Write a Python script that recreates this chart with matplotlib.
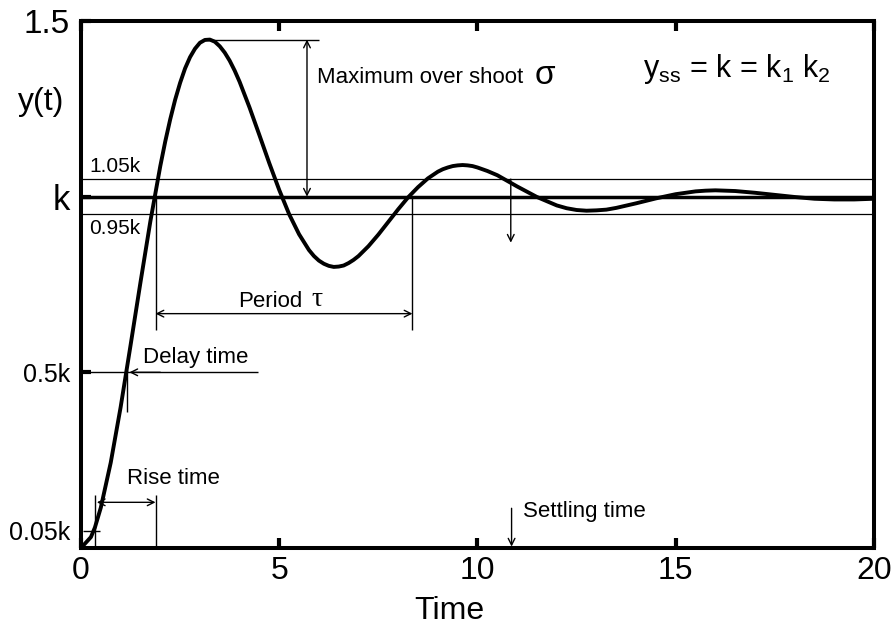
import matplotlib
matplotlib.use("Agg")
import matplotlib.pyplot as plt

plt.rcParams['font.family'] = ['Liberation Sans', 'DejaVu Sans']
plt.rcParams['mathtext.fontset'] = 'custom'
plt.rcParams['mathtext.rm'] = 'Liberation Sans'
plt.rcParams['mathtext.it'] = 'Liberation Sans'
plt.rcParams['mathtext.default'] = 'regular'

# step response
time = [0, 0.25, 0.35, 0.5, 0.75, 1.0, 1.25, 1.5, 1.75, 2.0, 2.125, 2.25,
        2.375, 2.5, 2.625, 2.75, 2.875, 3.0, 3.125, 3.25, 3.375, 3.5, 3.625,
        3.75, 3.875, 4.0, 4.25, 4.5, 4.75, 5.0, 5.25, 5.5, 5.75, 5.875, 6.0,
        6.125, 6.25, 6.375, 6.5, 6.625, 6.75, 6.875, 7.0, 7.125, 7.25, 7.5,
        7.75, 8.0, 8.25, 8.5, 8.75, 9.0, 9.125, 9.25, 9.375, 9.5, 9.625,
        9.75, 9.875, 10.0, 10.25, 10.5, 10.75, 11.0, 11.25, 11.5, 12.0,
        12.25, 12.5, 12.75, 13.0, 13.25, 13.5, 14.0, 14.5, 15.0, 15.5,
        15.75, 16.0, 16.25, 16.5, 17.0, 17.5, 18.0, 18.5, 19.0, 19.5, 20.0]
response = [0, 0.031, 0.058, 0.115, 0.243, 0.401, 0.577, 0.756, 0.930, 1.087,
            1.157, 1.220, 1.276, 1.324, 1.365, 1.397, 1.421, 1.438, 1.446,
            1.447, 1.441, 1.428, 1.410, 1.387, 1.359, 1.327, 1.254, 1.175,
            1.095, 1.019, 0.950, 0.893, 0.848, 0.831, 0.818, 0.809, 0.803,
            0.800, 0.801, 0.804, 0.811, 0.820, 0.831, 0.845, 0.859, 0.892,
            0.928, 0.964, 0.998, 1.027, 1.052, 1.071, 1.078, 1.083, 1.087,
            1.089, 1.090, 1.089, 1.087, 1.083, 1.073, 1.061, 1.045, 1.029,
            1.014, 0.999, 0.975, 0.967, 0.962, 0.960, 0.961, 0.963, 0.968,
            0.981, 0.995, 1.007, 1.015, 1.017, 1.018, 1.017, 1.016, 1.011,
            1.005, 0.999, 0.994, 0.992, 0.992, 0.994]

ytick_pos = [0.05, 0.5, 1.0, 1.5]
ytick_txt = ['0.05k', '0.5k', 'k', '1.5']
ytick_size = [18, 18, 25, 24]
xtick_pos = [0, 5, 10, 15, 20]

fig = plt.figure(figsize=(8.96, 6.28), dpi=100)
ax = fig.add_axes([0.0904, 0.1274, 0.8850, 0.8392])
ax.set_xlim(0, 20)
ax.set_ylim(0, 1.5)


def arrow(x0, y0, x1, y1, style='->'):
    ax.annotate('', xy=(x1, y1), xytext=(x0, y0),
                arrowprops=dict(arrowstyle=style, color='black', lw=1.0,
                                shrinkA=0, shrinkB=0, mutation_scale=12))


def seg(xs, ys, lw=1.0):
    ax.plot(xs, ys, color='black', lw=lw, solid_capstyle='butt')


# steady state band
ax.axhline(1.0, color='black', lw=2.5)
ax.axhline(1.05, color='black', lw=0.9)
ax.axhline(0.95, color='black', lw=0.9)

ax.plot(time, response, color='black', lw=2.8, solid_joinstyle='round')

# maximum overshoot
seg([3.2, 6.0], [1.447, 1.447])
arrow(5.7, 1.447, 5.7, 1.0, '<->')
ax.text(5.95, 1.339, 'Maximum over shoot', fontsize=16, va='center')
ax.text(11.45, 1.345, 'σ', fontsize=24, va='center')

ax.text(14.17, 1.362, 'y$_{ss}$ = k = k$_1$ k$_2$', fontsize=22, va='center')

ax.text(0.2, 1.085, '1.05k', fontsize=15, va='center')
ax.text(0.2, 0.909, '0.95k', fontsize=15, va='center')

# period
seg([1.88, 1.88], [1.0, 0.621])
seg([8.36, 8.36], [1.0, 0.621])
arrow(1.88, 0.667, 8.36, 0.667, '<->')
ax.text(3.96, 0.702, 'Period', fontsize=16, va='center')
ax.text(5.82, 0.708, 'τ', fontsize=20, va='center', family='Liberation Serif')

# delay time
seg([0, 4.46], [0.5, 0.5])
arrow(2.0, 0.5, 1.22, 0.5)
seg([1.17, 1.17], [0.507, 0.388])
ax.text(1.56, 0.541, 'Delay time', fontsize=16, va='center')

# rise time
seg([0.345, 0.345], [0.151, 0.004])
seg([1.88, 1.88], [0.152, 0.0])
arrow(0.40, 0.130, 1.88, 0.130, '<->')
seg([0.04, 0.48], [0.048, 0.048])
ax.text(1.15, 0.197, 'Rise time', fontsize=16, va='center')

# settling time
arrow(10.84, 1.05, 10.84, 0.869)
arrow(10.86, 0.113, 10.86, 0.004)
ax.text(11.14, 0.103, 'Settling time', fontsize=16, va='center')

ax.text(-0.021, 1.27, 'y(t)', fontsize=23, va='center', ha='right',
        transform=ax.get_yaxis_transform())

for s in ax.spines.values():
    s.set_linewidth(2.9)

ax.set_xticks(xtick_pos)
ax.set_xticklabels([str(v) for v in xtick_pos], fontsize=23)
ax.set_yticks(ytick_pos)
ax.set_yticklabels(ytick_txt)
for lab, sz in zip(ax.get_yticklabels(), ytick_size):
    lab.set_fontsize(sz)
ax.yaxis.get_major_ticks()[0].tick1line.set_visible(False)
ax.tick_params(axis='x', direction='in', top=True, length=7, width=3, pad=6)
ax.tick_params(axis='y', direction='in', length=7, width=3, pad=8)
ax.set_xlabel('Time', fontsize=23, x=0.465, labelpad=7)

fig.savefig('out.png', dpi=100)
